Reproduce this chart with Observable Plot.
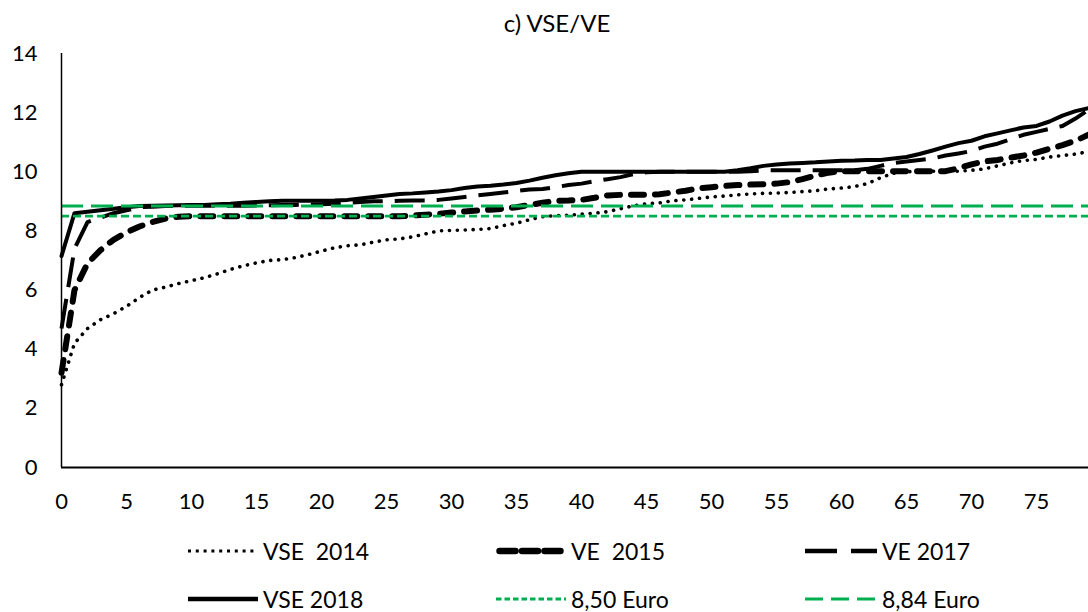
<!DOCTYPE html>
<html>
<head>
<meta charset="utf-8">
<script src="https://cdn.jsdelivr.net/npm/d3@7"></script>
<script src="https://cdn.jsdelivr.net/npm/@observablehq/plot@0.6"></script>
<style>
  html, body { margin: 0; padding: 0; background: #fff; }
  body { width: 1088px; height: 612px; position: relative; overflow: hidden; font-family: Lato, "Open Sans", sans-serif; }
  #chart { position: absolute; left: 0; top: 0; }
  .lg { position: absolute; display: flex; align-items: center; height: 30px; font-size: 23px; color: #000; white-space: pre; }
  .lg svg { display: block; margin-right: 5px; }
</style>
</head>
<body>
<div id="chart"></div>
<div id="legend"></div>
<script>
const title = "c) VSE/VE";
const xTicks = [0, 5, 10, 15, 20, 25, 30, 35, 40, 45, 50, 55, 60, 65, 70, 75];
const yTicks = [0, 2, 4, 6, 8, 10, 12, 14];
const seriesNames = ["VSE  2014", "VE  2015", "VE 2017", "VSE 2018"];
const refNames = ["8,50 Euro", "8,84 Euro"];
const refValues = [8.5, 8.84];

const vse2014 = [2.8, 4.2, 4.7, 5.0, 5.2, 5.45, 5.75, 6.0, 6.1, 6.22,
  6.32, 6.42, 6.55, 6.7, 6.82, 6.92, 7.0, 7.03, 7.1, 7.2,
  7.32, 7.43, 7.5, 7.53, 7.62, 7.7, 7.73, 7.8, 7.9, 8.0,
  8.02, 8.03, 8.05, 8.08, 8.18, 8.26, 8.38, 8.48, 8.52, 8.53,
  8.57, 8.6, 8.65, 8.75, 8.85, 8.92, 8.95, 9.02, 9.05, 9.1,
  9.15, 9.18, 9.22, 9.25, 9.27, 9.28, 9.3, 9.33, 9.36, 9.42,
  9.45, 9.5, 9.6, 9.8, 9.95, 10.0, 10.02, 10.02, 10.02, 10.02,
  10.05, 10.1, 10.2, 10.3, 10.38, 10.42, 10.5, 10.55, 10.6, 10.68];

const ve2015 = [3.2, 6.0, 6.9, 7.35, 7.7, 7.95, 8.15, 8.3, 8.42, 8.48,
  8.5, 8.5, 8.5, 8.5, 8.5, 8.5, 8.5, 8.5, 8.5, 8.5,
  8.5, 8.5, 8.5, 8.5, 8.5, 8.5, 8.5, 8.52, 8.55, 8.58,
  8.62, 8.66, 8.69, 8.72, 8.75, 8.8, 8.88, 8.95, 9.02, 9.03,
  9.05, 9.12, 9.2, 9.22, 9.22, 9.22, 9.24, 9.3, 9.36, 9.44,
  9.48, 9.52, 9.55, 9.57, 9.58, 9.6, 9.65, 9.75, 9.87, 9.97,
  10.02, 10.02, 10.02, 10.02, 10.02, 10.02, 10.02, 10.02, 10.02, 10.12,
  10.25, 10.35, 10.4, 10.48, 10.55, 10.65, 10.78, 10.9, 11.05, 11.25];

const ve2017 = [4.7, 7.4, 8.3, 8.45, 8.6, 8.7, 8.8, 8.82, 8.84, 8.85,
  8.85, 8.85, 8.85, 8.85, 8.85, 8.86, 8.87, 8.88, 8.88, 8.89,
  8.9, 8.92, 8.95, 8.98, 9.0, 9.0, 9.02, 9.03, 9.03, 9.05,
  9.1, 9.15, 9.2, 9.25, 9.3, 9.35, 9.4, 9.42, 9.48, 9.55,
  9.6, 9.68, 9.75, 9.82, 9.92, 9.98, 10.0, 10.0, 10.0, 10.0,
  10.0, 10.0, 10.0, 10.02, 10.05, 10.05, 10.05, 10.05, 10.05, 10.05,
  10.05, 10.05, 10.1, 10.2, 10.3, 10.35, 10.4, 10.45, 10.55, 10.62,
  10.7, 10.85, 10.95, 11.1, 11.25, 11.35, 11.45, 11.55, 11.8, 12.1];

const vse2018 = [7.15, 8.6, 8.65, 8.7, 8.75, 8.8, 8.84, 8.85, 8.86, 8.87,
  8.88, 8.88, 8.9, 8.92, 8.95, 8.98, 9.0, 9.02, 9.02, 9.02,
  9.02, 9.03, 9.05, 9.1, 9.15, 9.2, 9.25, 9.27, 9.3, 9.33,
  9.38, 9.45, 9.5, 9.53, 9.57, 9.62, 9.7, 9.8, 9.88, 9.95,
  10.0, 10.0, 10.0, 10.0, 10.0, 10.0, 10.0, 10.0, 10.0, 10.0,
  10.0, 10.0, 10.05, 10.12, 10.2, 10.25, 10.28, 10.3, 10.32, 10.35,
  10.37, 10.38, 10.4, 10.4, 10.45, 10.5, 10.6, 10.72, 10.85, 10.97,
  11.05, 11.2, 11.3, 11.4, 11.5, 11.55, 11.7, 11.9, 12.05, 12.15];

const styles = [
  {stroke: "#000", strokeWidth: 3.6, strokeDasharray: "0.1 7.8", strokeLinecap: "round"},
  {stroke: "#000", strokeWidth: 6, strokeDasharray: "13 11", strokeLinecap: "round"},
  {stroke: "#000", strokeWidth: 4, strokeDasharray: "30 12", strokeLinecap: "butt"},
  {stroke: "#000", strokeWidth: 4, strokeDasharray: null, strokeLinecap: "round"}
];
const refStyles = [
  {stroke: "#00B050", strokeWidth: 2.8, strokeDasharray: "8 4"},
  {stroke: "#00B050", strokeWidth: 3, strokeDasharray: "22 8"}
];

const seriesValues = [vse2014, ve2015, ve2017, vse2018];
const rows = seriesValues.map(vals => vals.map((v, i) => ({x: i, y: v})));

const lineMarks = rows.map((r, k) => Plot.line(r, {
  x: "x", y: "y",
  stroke: styles[k].stroke, strokeWidth: styles[k].strokeWidth,
  strokeDasharray: styles[k].strokeDasharray, strokeLinecap: styles[k].strokeLinecap,
  strokeLinejoin: "round", curve: "linear"
}));
const refMarks = refValues.map((v, k) => Plot.ruleY([v], {
  stroke: refStyles[k].stroke, strokeWidth: refStyles[k].strokeWidth,
  strokeDasharray: refStyles[k].strokeDasharray
}));

const chart = Plot.plot({
  width: 1088,
  height: 525,
  marginTop: 53,
  marginBottom: 58,
  marginLeft: 61,
  marginRight: 0,
  style: {fontFamily: "Lato, 'Open Sans', sans-serif", color: "#000", background: "#fff", overflow: "visible"},
  x: {domain: [0, 79]},
  y: {domain: [0, 14]},
  marks: [
    Plot.axisY({ticks: yTicks, tickSize: 0, tickPadding: 24, fontSize: 22, label: null}),
    Plot.axisX({ticks: xTicks, tickSize: 0, tickPadding: 26, fontSize: 22, label: null}),
    ...lineMarks,
    ...refMarks,
    Plot.ruleX([0], {y1: 0, y2: 14, stroke: "#000", strokeWidth: 1.5}),
    Plot.ruleY([0], {stroke: "#000", strokeWidth: 2}),
    Plot.text([title], {text: d => d, frameAnchor: "top", lineAnchor: "middle", dy: -29, dx: -18, fontSize: 24, fill: "#000"})
  ]
});
document.getElementById("chart").appendChild(chart);

// Legend (HTML)
const legendItems = [
  {name: seriesNames[0], st: styles[0], sw: 70, left: 188, top: 551},
  {name: seriesNames[1], st: styles[1], sw: 70, left: 496, top: 551},
  {name: seriesNames[2], st: styles[2], sw: 72, left: 805, top: 551},
  {name: seriesNames[3], st: styles[3], sw: 70, left: 188, top: 599},
  {name: refNames[0], st: refStyles[0], sw: 70, left: 496, top: 599},
  {name: refNames[1], st: refStyles[1], sw: 72, left: 805, top: 599}
];
const legendDash = ["3 4.8", "16 6.5", "32 14", null, "5.5 3", "18 8"];
const legendWidth = [3, 6.5, 4.5, 4.5, 2.8, 3.2];
const legendCap = ["butt", "round", "butt", "butt", "butt", "butt"];
const lg = document.getElementById("legend");
legendItems.forEach((it, k) => {
  const div = document.createElement("div");
  div.className = "lg";
  div.style.left = it.left + "px";
  div.style.top = (it.top - 15) + "px";
  const ns = "http://www.w3.org/2000/svg";
  const svg = document.createElementNS(ns, "svg");
  svg.setAttribute("width", it.sw);
  svg.setAttribute("height", 12);
  const line = document.createElementNS(ns, "line");
  const pad = legendCap[k] === "round" ? 3.5 : 0;
  line.setAttribute("x1", pad);
  line.setAttribute("x2", it.sw - pad);
  line.setAttribute("y1", 6);
  line.setAttribute("y2", 6);
  line.setAttribute("stroke", it.st.stroke);
  line.setAttribute("stroke-width", legendWidth[k]);
  line.setAttribute("stroke-linecap", legendCap[k]);
  if (legendDash[k]) line.setAttribute("stroke-dasharray", legendDash[k]);
  svg.appendChild(line);
  div.appendChild(svg);
  const span = document.createElement("span");
  span.textContent = it.name;
  div.appendChild(span);
  lg.appendChild(div);
});
</script>
</body>
</html>
